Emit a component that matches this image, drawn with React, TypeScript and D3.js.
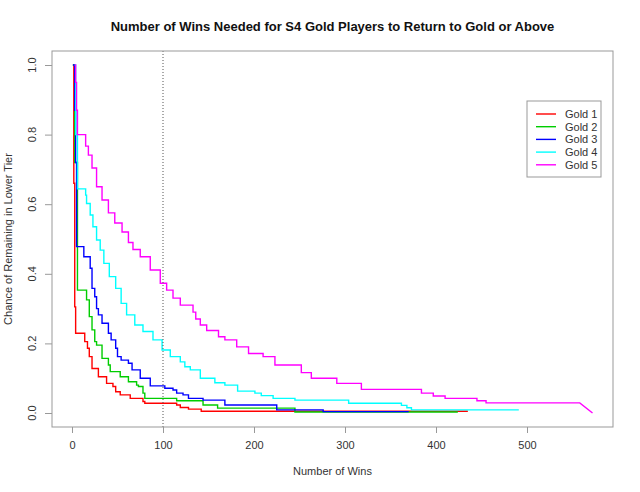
import { useEffect, useRef } from 'react';
import * as d3 from 'd3';

// Survival-style step data: [wins, chance of remaining in lower tier]
const gold1: [number, number][] = [
    [1, 1.0], [2, 0.66], [3, 0.305], [4, 0.229], [14, 0.205], [17, 0.186], [19, 0.162],
    [22, 0.128], [29, 0.104], [38, 0.085], [45, 0.076], [48, 0.061], [53, 0.052], [64, 0.042],
    [78, 0.033], [80, 0.028], [115, 0.023], [119, 0.016], [128, 0.011], [142, 0.005], [435, 0.005],
];
const gold2: [number, number][] = [
    [1, 1.0], [3, 0.72], [6, 0.353], [16, 0.325], [19, 0.277], [22, 0.239], [25, 0.205],
    [27, 0.195], [33, 0.157], [40, 0.138], [42, 0.119], [53, 0.104], [62, 0.09], [71, 0.08],
    [73, 0.076], [78, 0.057], [80, 0.042], [115, 0.035], [144, 0.023], [160, 0.014],
    [245, 0.003], [424, 0.003],
];
const gold3: [number, number][] = [
    [1, 1.0], [3, 0.87], [4, 0.72], [5, 0.478], [13, 0.449], [20, 0.416], [22, 0.358],
    [25, 0.334], [27, 0.3], [29, 0.282], [33, 0.258], [40, 0.229], [43, 0.21], [48, 0.186],
    [50, 0.162], [54, 0.152], [62, 0.143], [66, 0.124], [75, 0.1], [86, 0.078], [102, 0.071],
    [111, 0.066], [115, 0.057], [122, 0.052], [128, 0.042], [144, 0.037], [168, 0.023],
    [225, 0.009], [276, 0.004], [370, 0.004],
];
const gold4: [number, number][] = [
    [3, 1.0], [4, 0.8], [6, 0.644], [15, 0.626], [16, 0.602], [20, 0.569], [23, 0.535],
    [27, 0.497], [31, 0.468], [35, 0.43], [41, 0.392], [48, 0.358], [54, 0.315], [60, 0.282],
    [69, 0.253], [78, 0.234], [89, 0.21], [99, 0.181], [108, 0.162], [119, 0.147], [124, 0.133],
    [130, 0.124], [141, 0.1], [157, 0.087], [168, 0.08], [182, 0.063], [201, 0.057], [208, 0.05],
    [221, 0.042], [245, 0.037], [304, 0.028], [362, 0.022], [368, 0.015], [373, 0.009], [491, 0.009],
];
const gold5: [number, number][] = [
    [3, 1.0], [4, 0.95], [5, 0.87], [6, 0.8], [15, 0.767], [18, 0.741], [22, 0.704], [27, 0.65],
    [33, 0.612], [40, 0.575], [47, 0.546], [55, 0.52], [62, 0.49], [67, 0.47], [75, 0.449],
    [86, 0.411], [97, 0.373], [104, 0.353], [111, 0.33], [119, 0.31], [133, 0.29], [136, 0.27],
    [141, 0.253], [148, 0.237], [161, 0.219], [168, 0.21], [181, 0.19], [194, 0.171], [210, 0.162],
    [223, 0.138], [252, 0.116], [263, 0.1], [291, 0.085], [318, 0.068], [384, 0.057], [397, 0.049],
    [410, 0.042], [445, 0.035], [455, 0.029], [558, 0.029], [572, 0],
];

const seriesNames = ['Gold 1', 'Gold 2', 'Gold 3', 'Gold 4', 'Gold 5'];
const seriesData = [gold1, gold2, gold3, gold4, gold5];
const seriesColors = ['#ff0000', '#00cd00', '#0000ff', '#00ffff', '#ff00ff'];
const xTicks = [0, 100, 200, 300, 400, 500];
const yTicks = [0, 0.2, 0.4, 0.6, 0.8, 1.0];
const markerWins = 100;

const FONT = '"Liberation Sans", Arial, sans-serif';

// steps between points, last segment joined straight
function stepPoints(pts: [number, number][]): [number, number][] {
    const out: [number, number][] = [pts[0]];
    for (let i = 1; i < pts.length; i++) {
        if (i < pts.length - 1) out.push([pts[i][0], pts[i - 1][1]]);
        out.push(pts[i]);
    }
    return out;
}

export default function App() {
    const svgRef = useRef<SVGSVGElement>(null);

    useEffect(() => {
        if (!svgRef.current) return;
        const width = 640;
        const height = 492;
        const box = { left: 52, right: 613, top: 51, bottom: 427 };

        const svg = d3.select(svgRef.current);
        svg.selectAll('*').remove();
        svg.attr('width', width).attr('height', height);

        svg.append('rect').attr('width', width).attr('height', height).attr('fill', '#fff');

        const x = d3.scaleLinear().domain([0, 500]).range([72, 527]);
        const y = d3.scaleLinear().domain([0, 1]).range([413, 65]);

        // title
        svg.append('text')
            .attr('x', (box.left + box.right) / 2)
            .attr('y', 31)
            .attr('text-anchor', 'middle')
            .attr('font-family', FONT)
            .attr('font-weight', 'bold')
            .attr('font-size', 13)
            .attr('fill', '#111')
            .text('Number of Wins Needed for S4 Gold Players to Return to Gold or Above');

        // axes
        const xAxis = svg.append('g').attr('transform', `translate(0,${box.bottom})`);
        xAxis.call(d3.axisBottom(x).tickValues(xTicks).tickSize(6).tickPadding(8).tickFormat(d3.format('d')) as any);
        xAxis.select('.domain').remove();
        xAxis.selectAll('line').attr('stroke', '#999');
        xAxis.selectAll('text').attr('font-family', FONT).attr('font-size', 11).attr('fill', '#333');

        const yAxis = svg.append('g').attr('transform', `translate(${box.left},0)`);
        yAxis.call(d3.axisLeft(y).tickValues(yTicks).tickSize(7).tickFormat(() => '') as any);
        yAxis.select('.domain').remove();
        yAxis.selectAll('line').attr('stroke', '#999');
        yTicks.forEach((t) => {
            svg.append('text')
                .attr('transform', `translate(36,${y(t)}) rotate(-90)`)
                .attr('text-anchor', 'middle')
                .attr('font-family', FONT)
                .attr('font-size', 11)
                .attr('fill', '#333')
                .text(d3.format('.1f')(t));
        });

        // axis labels
        svg.append('text')
            .attr('x', (box.left + box.right) / 2)
            .attr('y', 475)
            .attr('text-anchor', 'middle')
            .attr('font-family', FONT)
            .attr('font-size', 11)
            .attr('fill', '#333')
            .text('Number of Wins');

        svg.append('text')
            .attr('transform', `translate(12,${(box.top + box.bottom) / 2}) rotate(-90)`)
            .attr('text-anchor', 'middle')
            .attr('font-family', FONT)
            .attr('font-size', 11)
            .attr('fill', '#333')
            .text('Chance of Remaining in Lower Tier');

        // lines
        const line = d3
            .line<[number, number]>()
            .x((d) => x(d[0]))
            .y((d) => y(d[1]));

        seriesData.forEach((s, i) => {
            svg.append('path')
                .datum(stepPoints(s))
                .attr('fill', 'none')
                .attr('stroke', seriesColors[i])
                .attr('stroke-width', 1.4)
                .attr('d', line);
        });

        // dotted marker
        svg.append('line')
            .attr('x1', x(markerWins))
            .attr('x2', x(markerWins))
            .attr('y1', box.top)
            .attr('y2', box.bottom)
            .attr('stroke', '#555')
            .attr('stroke-width', 1)
            .attr('stroke-dasharray', '1,2');

        // plot box
        svg.append('rect')
            .attr('x', box.left)
            .attr('y', box.top)
            .attr('width', box.right - box.left)
            .attr('height', box.bottom - box.top)
            .attr('fill', 'none')
            .attr('stroke', '#999');

        // legend
        const legend = svg.append('g').attr('transform', 'translate(527,101)');
        legend.append('rect')
            .attr('width', 74)
            .attr('height', 76)
            .attr('fill', '#fff')
            .attr('stroke', '#999');
        seriesNames.forEach((name, i) => {
            const row = legend.append('g').attr('transform', `translate(0,${13 + i * 12.7})`);
            row.append('line').attr('x1', 9).attr('x2', 29).attr('stroke', seriesColors[i]).attr('stroke-width', 1.4);
            row.append('text')
                .attr('x', 38)
                .attr('y', 4)
                .attr('font-family', FONT)
                .attr('font-size', 11)
                .attr('fill', '#333')
                .text(name);
        });
    }, []);

    return (
        <svg
            ref={svgRef}
            style={{ position: 'absolute', left: 0, top: 0, display: 'block' }}
        />
    );
}
